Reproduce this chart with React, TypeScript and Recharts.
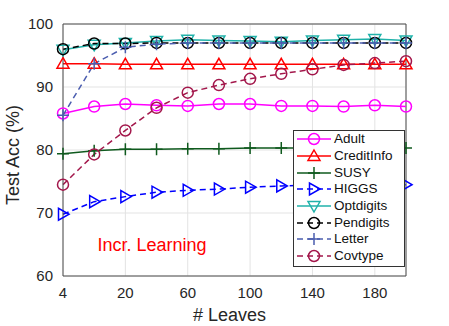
import React from "react";
import { LineChart, Line, XAxis, YAxis, CartesianGrid, ReferenceLine } from "recharts";

// x positions are evenly spaced categories (only every other one is labelled)
const leaves = [4, 10, 20, 40, 60, 80, 100, 120, 140, 160, 180, 200];
const xTicks = [0, 2, 4, 6, 8, 10];
const yTicks = [60, 70, 80, 90, 100];

const adult = [85.8, 86.9, 87.3, 87.1, 87.0, 87.3, 87.3, 87.0, 87.0, 86.9, 87.1, 86.9];
const creditInfo = [93.7, 93.7, 93.6, 93.6, 93.6, 93.6, 93.6, 93.6, 93.6, 93.6, 93.6, 93.6];
const susy = [79.4, 79.9, 80.1, 80.1, 80.2, 80.2, 80.3, 80.3, 80.3, 80.3, 80.3, 80.3];
const higgs = [69.8, 71.8, 72.6, 73.3, 73.6, 73.8, 74.1, 74.3, 74.4, 74.4, 74.5, 74.5];
const optdigits = [95.9, 96.7, 97.0, 97.3, 97.5, 97.4, 97.3, 97.2, 97.4, 97.5, 97.6, 97.4];
const pendigits = [96.0, 96.9, 96.9, 97.0, 97.0, 97.0, 97.0, 97.0, 97.0, 97.0, 97.0, 97.0];
const letter = [85.5, 93.7, 96.3, 96.8, 97.0, 97.0, 97.0, 97.0, 97.0, 97.0, 97.0, 97.0];
const covtype = [74.5, 79.3, 83.1, 86.7, 89.1, 90.3, 91.3, 92.1, 92.8, 93.5, 93.8, 94.1];

const data = leaves.map((l, i) => ({
  i,
  leaves: l,
  Adult: adult[i],
  CreditInfo: creditInfo[i],
  SUSY: susy[i],
  HIGGS: higgs[i],
  Optdigits: optdigits[i],
  Pendigits: pendigits[i],
  Letter: letter[i],
  Covtype: covtype[i],
}));

type Shape = "circle" | "up" | "plus" | "right" | "down";

const series: { key: string; color: string; shape: Shape; dashed: boolean }[] = [
  { key: "Adult", color: "#ff00ff", shape: "circle", dashed: false },
  { key: "CreditInfo", color: "#ff0000", shape: "up", dashed: false },
  { key: "SUSY", color: "#0f5a1e", shape: "plus", dashed: false },
  { key: "HIGGS", color: "#0000ff", shape: "right", dashed: true },
  { key: "Optdigits", color: "#20b2aa", shape: "down", dashed: false },
  { key: "Pendigits", color: "#000000", shape: "circle", dashed: true },
  { key: "Letter", color: "#4b5daf", shape: "plus", dashed: true },
  { key: "Covtype", color: "#a3174b", shape: "circle", dashed: true },
];

const font = "'Liberation Sans', Arial, sans-serif";

function Marker({ cx, cy, shape, color }: { cx: number; cy: number; shape: Shape; color: string }) {
  const sw = 1.5;
  if (shape === "circle")
    return <circle cx={cx} cy={cy} r={5.5} fill="none" stroke={color} strokeWidth={sw} />;
  if (shape === "plus")
    return (
      <path d={`M${cx - 6},${cy}H${cx + 6}M${cx},${cy - 6}V${cy + 6}`} stroke={color} strokeWidth={sw} fill="none" />
    );
  let pts = "";
  if (shape === "up") pts = `${cx},${cy - 6} ${cx + 6},${cy + 4.5} ${cx - 6},${cy + 4.5}`;
  if (shape === "down") pts = `${cx},${cy + 6} ${cx + 6},${cy - 4.5} ${cx - 6},${cy - 4.5}`;
  if (shape === "right") pts = `${cx + 6},${cy} ${cx - 4.5},${cy - 6} ${cx - 4.5},${cy + 6}`;
  return <polygon points={pts} fill="none" stroke={color} strokeWidth={sw} strokeLinejoin="miter" />;
}

function LegendBox() {
  return (
    <div
      style={{
        position: "absolute",
        left: 293,
        top: 130,
        width: 110,
        border: "1px solid #333",
        background: "#fff",
        padding: "0 0 1px 0",
        fontFamily: font,
        fontSize: 13.5,
        color: "#111",
      }}
    >
      {series.map((s) => (
        <div key={s.key} style={{ display: "flex", alignItems: "center", height: 16.7 }}>
          <svg width={40} height={16} style={{ flex: "none" }}>
            <line
              x1={3}
              x2={37}
              y1={8}
              y2={8}
              stroke={s.color}
              strokeWidth={1.5}
              strokeDasharray={s.dashed ? "6 4" : undefined}
            />
            <Marker cx={20} cy={8} shape={s.shape} color={s.color} />
          </svg>
          <span style={{ lineHeight: "16px" }}>{s.key}</span>
        </div>
      ))}
    </div>
  );
}

const tickStyle = { fill: "#262626", fontSize: 15, fontFamily: font };

export default function App() {
  return (
    <div style={{ position: "absolute", left: 0, top: 0, width: 449, height: 326, background: "#fff" }}>
      <LineChart width={449} height={326} data={data} margin={{ top: 24, right: 43, bottom: 0, left: 0 }}>
        <CartesianGrid stroke="#e3e3e3" strokeWidth={1} />
        <XAxis
          dataKey="i"
          type="number"
          domain={[0, 11]}
          ticks={xTicks}
          tickFormatter={(v) => String(leaves[v])}
          height={50}
          tickSize={0}
          tickMargin={11}
          tick={tickStyle}
          axisLine={{ stroke: "#4d4d4d" }}
          label={{
            value: "# Leaves",
            position: "insideBottom",
            offset: 5,
            dx: -5,
            style: { fill: "#262626", fontSize: 18, fontFamily: font },
          }}
        />
        <YAxis
          type="number"
          domain={[60, 100]}
          ticks={yTicks}
          width={63}
          tickSize={0}
          tickMargin={10}
          tick={tickStyle}
          axisLine={{ stroke: "#4d4d4d" }}
          label={(props: any) => {
            const vb = props.viewBox || { x: 0, y: 24, width: 63, height: 252 };
            const cy = vb.y + vb.height / 2 + 5;
            return (
              <text
                x={13}
                y={cy}
                transform={`rotate(-90 13 ${cy})`}
                textAnchor="middle"
                dominantBaseline="central"
                style={{ fill: "#262626", fontSize: 18, fontFamily: font }}
              >
                Test Acc (%)
              </text>
            );
          }}
        />
        <ReferenceLine y={100} stroke="#4d4d4d" />
        <ReferenceLine x={11} stroke="#4d4d4d" />
        {series.map((s) => (
          <Line
            key={s.key}
            dataKey={s.key}
            type="linear"
            stroke={s.color}
            strokeWidth={1.5}
            strokeDasharray={s.dashed ? "6 4" : undefined}
            isAnimationActive={false}
            dot={(p: any) => (
              <Marker key={`${s.key}-${p.index}`} cx={p.cx} cy={p.cy} shape={s.shape} color={s.color} />
            )}
            activeDot={false}
          />
        ))}
        <text
          x={152}
          y={245}
          textAnchor="middle"
          dominantBaseline="central"
          style={{ fill: "#ff0000", fontSize: 18, fontFamily: font }}
        >
          Incr. Learning
        </text>
      </LineChart>
      <LegendBox />
    </div>
  );
}
